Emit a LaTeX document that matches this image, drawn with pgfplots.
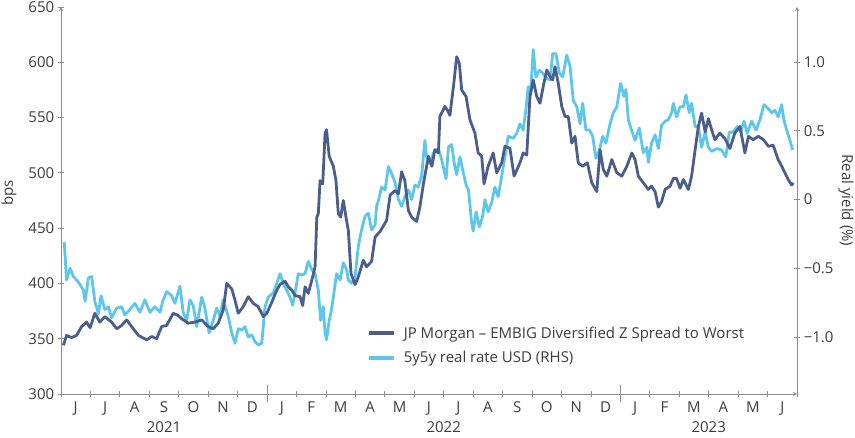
\documentclass[border=0pt]{standalone}
\usepackage{fontspec}
\setmainfont{Open Sans}
\usepackage{pgfplots}
\pgfplotsset{compat=1.18}
\usepackage{pgfplotstable}
\definecolor{embig}{HTML}{4A5D8B}
\definecolor{real}{HTML}{5CC6EB}
\definecolor{axisgray}{HTML}{8C8C8C}
\definecolor{txt}{HTML}{3C3C3C}

\pgfplotstableread{
m v
0.08 344
0.19 353
0.36 351
0.53 353
0.70 361
0.87 365
0.99 360
1.15 373
1.32 365
1.49 370
1.72 365
1.89 359
2.06 362
2.23 367
2.40 361
2.63 353
2.91 349
3.08 352
3.25 350
3.42 361
3.59 362
3.81 373
3.98 371
4.10 368
4.32 364
4.55 365
4.78 367
5.00 361
5.17 359
5.34 364
5.51 376
5.63 400
5.80 395
5.91 385
6.02 373
6.19 379
6.36 388
6.53 382
6.70 379
6.87 370
6.99 373
7.16 383
7.33 394
7.44 399
7.61 402
7.72 397
7.84 394
7.95 389
8.12 388
8.21 380
8.29 397
8.40 391
8.52 403
8.63 415
8.69 460
8.74 463
8.80 493
8.89 490
8.97 536
9.02 539
9.11 515
9.25 506
9.34 493
9.42 463
9.50 460
9.59 475
9.68 460
9.76 448
9.85 409
9.99 399
10.10 406
10.27 421
10.38 415
10.55 420
10.67 442
10.84 447
11.06 457
11.18 480
11.35 484
11.46 481
11.57 501
11.68 493
11.80 466
11.91 460
12.08 456
12.19 469
12.31 490
12.48 515
12.60 506
12.70 521
12.82 518
12.87 551
13.04 560
13.12 557
13.21 552
13.33 578
13.44 605
13.53 599
13.61 575
13.76 569
13.89 548
14.06 536
14.17 518
14.29 515
14.37 490
14.51 506
14.68 518
14.80 500
14.97 509
15.08 524
15.25 522
15.39 497
15.59 509
15.70 518
15.82 516
15.93 569
16.04 584
16.16 569
16.27 563
16.38 578
16.50 593
16.61 587
16.70 584
16.78 596
16.89 581
17.01 560
17.12 551
17.23 551
17.35 527
17.46 533
17.57 509
17.72 506
17.88 509
18.03 491
18.20 483
18.31 521
18.42 503
18.54 497
18.71 512
18.88 500
19.05 497
19.22 506
19.39 518
19.50 512
19.61 497
19.78 491
19.95 485
20.06 488
20.18 483
20.29 469
20.40 474
20.52 485
20.69 488
20.80 495
20.91 495
21.03 486
21.14 494
21.31 485
21.42 497
21.54 521
21.65 542
21.76 554
21.88 537
21.99 549
22.10 539
22.21 530
22.38 536
22.55 531
22.72 522
22.89 536
23.06 542
23.23 518
23.35 533
23.51 530
23.69 533
23.86 530
24.03 524
24.19 525
24.36 512
24.48 506
24.59 500
24.70 494
24.82 489
24.87 491
}\embigdata

\pgfplotstableread{
m v
0.11 -0.31
0.19 -0.585
0.31 -0.50
0.42 -0.56
0.53 -0.585
0.65 -0.62
0.76 -0.66
0.82 -0.74
0.93 -0.57
1.04 -0.56
1.15 -0.74
1.27 -0.83
1.36 -0.70
1.49 -0.80
1.61 -0.78
1.72 -0.86
1.89 -0.79
2.06 -0.78
2.17 -0.84
2.34 -0.80
2.51 -0.755
2.68 -0.82
2.85 -0.73
3.02 -0.82
3.19 -0.78
3.36 -0.82
3.47 -0.73
3.59 -0.67
3.76 -0.70
3.87 -0.755
4.04 -0.63
4.15 -0.82
4.27 -0.88
4.38 -0.73
4.49 -0.77
4.61 -0.925
4.78 -0.71
4.89 -0.79
5.03 -0.97
5.17 -0.88
5.29 -0.79
5.40 -0.85
5.51 -0.73
5.68 -0.85
5.80 -0.97
5.91 -1.046
6.02 -0.94
6.14 -0.95
6.25 -0.925
6.36 -1.00
6.48 -0.985
6.59 -1.034
6.70 -1.058
6.82 -1.046
6.93 -0.78
7.04 -0.71
7.21 -0.68
7.33 -0.61
7.44 -0.54
7.55 -0.61
7.67 -0.66
7.78 -0.71
7.87 -0.77
7.95 -0.68
8.06 -0.54
8.18 -0.55
8.29 -0.54
8.40 -0.45
8.52 -0.51
8.63 -0.54
8.74 -0.66
8.82 -0.88
8.91 -0.78
8.97 -0.97
9.02 -1.02
9.11 -0.88
9.19 -0.80
9.27 -0.68
9.36 -0.54
9.48 -0.585
9.59 -0.46
9.70 -0.51
9.76 -0.585
9.87 -0.61
9.99 -0.56
10.10 -0.34
10.21 -0.22
10.33 -0.12
10.44 -0.10
10.55 -0.22
10.67 -0.185
10.72 -0.05
10.78 -0.01
10.89 0.09
11.01 0.07
11.12 0.24
11.23 0.19
11.35 0.12
11.46 0.00
11.57 -0.05
11.68 0.02
11.80 0.07
11.91 0.00
12.02 0.105
12.13 0.09
12.25 0.17
12.36 0.43
12.42 0.31
12.53 0.26
12.65 0.34
12.82 0.37
12.93 0.29
13.08 0.15
13.16 0.38
13.27 0.40
13.36 0.26
13.44 0.18
13.55 0.31
13.67 0.19
13.76 0.105
13.84 0.07
13.95 -0.17
14.00 -0.23
14.10 -0.09
14.21 -0.20
14.32 -0.125
14.40 0.00
14.51 -0.09
14.63 -0.02
14.74 0.09
14.85 0.02
14.97 0.17
15.08 0.31
15.19 0.46
15.36 0.445
15.48 0.48
15.59 0.55
15.70 0.505
15.79 0.65
15.87 0.82
15.95 0.77
16.04 1.09
16.13 0.89
16.25 0.94
16.36 0.92
16.50 0.88
16.61 0.87
16.70 1.06
16.81 1.06
16.93 0.92
17.04 0.89
17.18 1.05
17.29 0.97
17.40 0.72
17.52 0.675
17.63 0.55
17.72 0.70
17.83 0.505
17.95 0.505
18.06 0.46
18.17 0.30
18.29 0.36
18.40 0.46
18.51 0.41
18.65 0.55
18.76 0.63
18.88 0.675
19.01 0.845
19.12 0.75
19.19 0.80
19.27 0.58
19.38 0.505
19.50 0.43
19.64 0.52
19.78 0.34
19.90 0.38
19.95 0.27
20.06 0.41
20.18 0.47
20.29 0.37
20.40 0.54
20.52 0.57
20.63 0.58
20.74 0.63
20.80 0.70
20.91 0.60
21.03 0.675
21.14 0.675
21.23 0.76
21.34 0.63
21.42 0.70
21.54 0.53
21.65 0.53
21.76 0.38
21.88 0.49
21.99 0.38
22.10 0.35
22.27 0.37
22.44 0.36
22.58 0.31
22.70 0.49
22.83 0.49
22.97 0.53
23.09 0.49
23.20 0.57
23.31 0.48
23.46 0.57
23.61 0.505
23.74 0.58
23.88 0.69
24.03 0.66
24.14 0.63
24.25 0.65
24.36 0.60
24.48 0.69
24.55 0.58
24.65 0.505
24.76 0.43
24.85 0.36
}\realdata

\newcommand{\lblfont}{\fontsize{15}{18}\selectfont}

\pgfplotsset{
  base/.style={
    width=736pt, height=387pt, scale only axis,
    at={(0pt,0pt)}, anchor=south west,
    xmin=0, xmax=25,
    tick align=outside,
    major tick length=6.5pt,
    minor tick length=17pt,
    axis line style={-, draw=axisgray, line width=0.8pt},
    every outer x axis line/.append style={-},
    every outer y axis line/.append style={-},
    x axis line style={-},
    y axis line style={-},
    every tick/.style={draw=axisgray, line width=0.8pt},
    tick label style={font=\lblfont, text=txt},
  }
}

\begin{document}
\begin{tikzpicture}
\path[use as bounding box] (-61pt,-44pt) rectangle (794pt,394pt);
% right axis: real yield
\begin{axis}[base,
  axis y line=right, axis x line=none,
  ymin=-1.4145, ymax=1.4,
  ytick={-1,-0.5,0,0.5,1},
  yticklabels={−1.0,−0.5,0,0.5,1.0},
  yticklabel style={anchor=west},
  ylabel={Real yield (\%)},
  ylabel style={font=\lblfont, text=txt, at={(axis description cs:1.0666,0.5)}, anchor=center, rotate=180},
]
\addplot[real, line width=2.8pt, line join=round] table[x=m,y=v] {\realdata};
\end{axis}
% left axis: spread
\begin{axis}[base, clip=false,
  axis y line=left, axis x line=bottom,
  ymin=300, ymax=650,
  ytick={300,350,...,650},
  yticklabels={300,350,400,450,500,550,600,650},
  ylabel={bps},
  ylabel style={font=\lblfont, text=txt, at={(axis description cs:-0.0707,0.52)}, anchor=center},
  xtick={0,...,25}, xticklabels={},
  minor xtick={7,19},
  extra x ticks={0.5,1.5,...,24.5},
  extra x tick labels={J,J,A,S,O,N,D,J,F,M,A,M,J,J,A,S,O,N,D,J,F,M,A,M,J},
  extra x tick style={major tick length=0pt, tick label style={anchor=base, yshift=-19pt}},
  legend style={draw=none, fill=none, at={(axis description cs:0.4118,0.185)}, anchor=north west,
    font=\lblfont, text=txt, row sep=8pt,
    /tikz/every odd column/.append style={column sep=6pt}},
  legend cell align=left,
  legend image code/.code={\draw[#1, line width=3.5pt] (0pt,0pt) -- (25pt,0pt);},
]
\addplot[embig, line width=2.8pt, line join=round] table[x=m,y=v] {\embigdata};
\addlegendentry{JP Morgan – EMBIG Diversified Z Spread to Worst}
\addlegendimage{real}
\addlegendentry{5y5y real rate USD (RHS)}
\node[font=\lblfont, text=txt, anchor=base] at (axis cs:3.5,300) [yshift=-39pt] {2021};
\node[font=\lblfont, text=txt, anchor=base] at (axis cs:13,300) [yshift=-39pt] {2022};
\node[font=\lblfont, text=txt, anchor=base] at (axis cs:22,300) [yshift=-39pt] {2023};
\end{axis}
\end{tikzpicture}
\end{document}
